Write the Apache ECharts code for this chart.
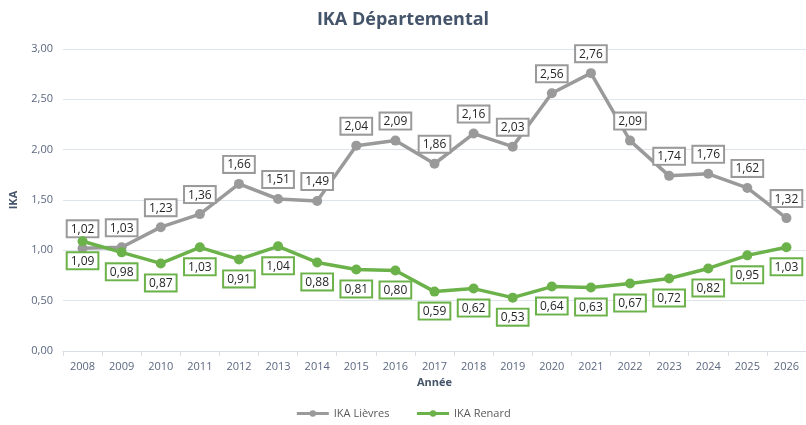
<!DOCTYPE html>
<html>
<head>
<meta charset="utf-8">
<script src="https://cdn.jsdelivr.net/npm/echarts@6/dist/echarts.min.js"></script>
<style>
  html, body { margin: 0; padding: 0; background: #fff; }
  #chart { width: 806px; height: 425px; }
</style>
</head>
<body>
<div id="chart"></div>
<script>
const years = ['2008', '2009', '2010', '2011', '2012', '2013', '2014', '2015', '2016', '2017',
  '2018', '2019', '2020', '2021', '2022', '2023', '2024', '2025', '2026'];
const ikaLievres = [1.02, 1.03, 1.23, 1.36, 1.66, 1.51, 1.49, 2.04, 2.09, 1.86,
  2.16, 2.03, 2.56, 2.76, 2.09, 1.74, 1.76, 1.62, 1.32];
const ikaRenard = [1.09, 0.98, 0.87, 1.03, 0.91, 1.04, 0.88, 0.81, 0.80, 0.59,
  0.62, 0.53, 0.64, 0.63, 0.67, 0.72, 0.82, 0.95, 1.03];

const grey = '#9a9a9a';
const green = '#6cb24a';
const axisText = '#5b6880';

const frNumber = (v) => v.toFixed(2).replace('.', ',');

function boxLabel(color, position) {
  return {
    show: true,
    position: position,
    distance: 7,
    formatter: (p) => frNumber(p.value),
    color: '#262626',
    fontSize: 12,
    fontFamily: 'Open Sans',
    backgroundColor: '#fff',
    borderColor: color,
    borderWidth: 2,
    padding: [2, 3, 1, 3],
  };
}

const chart = echarts.init(document.getElementById('chart'));
chart.setOption({
  animation: false,
  textStyle: { fontFamily: 'Open Sans' },
  title: {
    text: 'IKA Départemental',
    left: 'center',
    top: 6,
    textStyle: { fontSize: 18, fontWeight: 'bold', color: '#44546a', fontFamily: 'Open Sans' },
  },
  grid: {
    left: 60,
    top: 49,
    width: 753,
    bottom: 74,
  },
  legend: {
    bottom: 1,
    left: 'center',
    itemWidth: 32,
    itemHeight: 8,
    itemGap: 26,
    textStyle: { color: '#595959', fontSize: 11 },
    lineStyle: { width: 3 },
    data: ['IKA Lièvres', 'IKA Renard'],
  },
  xAxis: {
    type: 'category',
    data: years,
    name: 'Année',
    nameLocation: 'middle',
    nameGap: 24,
    nameTextStyle: { fontWeight: 'bold', color: '#44546a', fontSize: 11 },
    axisLine: { lineStyle: { color: '#d9dee6' } },
    axisTick: { show: true, lineStyle: { color: '#d9dee6' }, length: 5 },
    axisLabel: { color: axisText, fontSize: 11, margin: 10 },
  },
  yAxis: {
    type: 'value',
    min: 0,
    max: 3,
    interval: 0.5,
    name: 'IKA',
    nameLocation: 'middle',
    nameGap: 44,
    nameTextStyle: { fontWeight: 'bold', color: '#44546a', fontSize: 11 },
    axisLabel: { color: axisText, fontSize: 11, formatter: (v) => frNumber(v), margin: 10 },
    axisLine: { show: false },
    axisTick: { show: false },
    splitLine: { lineStyle: { color: '#dde4ec', width: 1 } },
  },
  series: [
    {
      name: 'IKA Lièvres',
      type: 'line',
      data: ikaLievres,
      symbol: 'circle',
      symbolSize: 10,
      itemStyle: { color: grey },
      lineStyle: { color: grey, width: 3.5 },
      label: boxLabel(grey, 'top'),
      z: 3,
    },
    {
      name: 'IKA Renard',
      type: 'line',
      data: ikaRenard,
      symbol: 'circle',
      symbolSize: 10,
      itemStyle: { color: green },
      lineStyle: { color: green, width: 3.5 },
      label: boxLabel(green, 'bottom'),
      z: 4,
    },
  ],
});
</script>
</body>
</html>
